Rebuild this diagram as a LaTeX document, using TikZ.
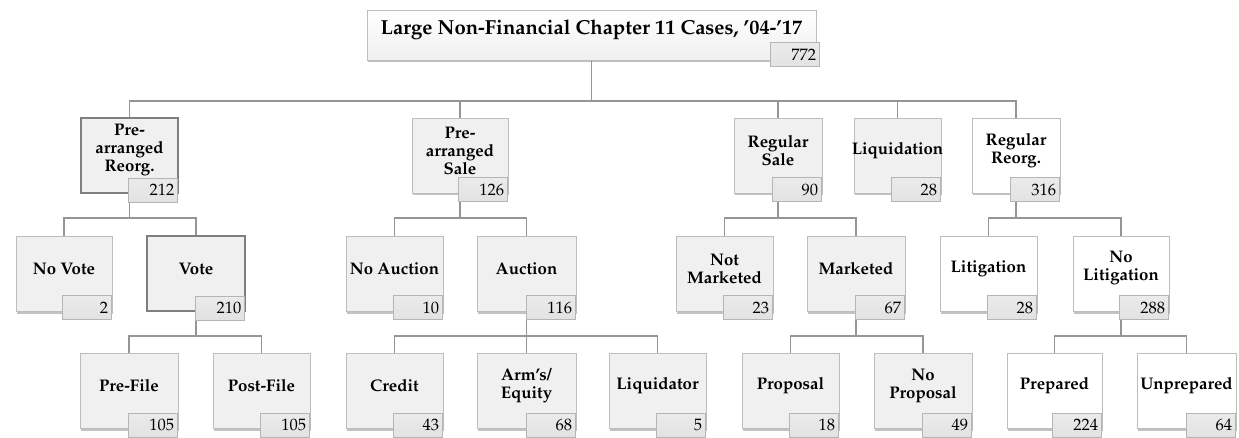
\documentclass[tikz,border=0pt]{standalone}
\usepackage[T1]{fontenc}
\IfFileExists{tgpagella.sty}{\usepackage{tgpagella}}{\usepackage{mathpazo}}
\usetikzlibrary{shadows,backgrounds}
\definecolor{linegray}{HTML}{959595}
\definecolor{boxfill}{HTML}{F0F0F0}
\definecolor{boxdraw}{HTML}{BDBDBD}
\definecolor{seldraw}{HTML}{7F7F7F}
\definecolor{cntfill}{HTML}{E2E2E2}
\definecolor{cntdraw}{HTML}{B5B5B5}
\tikzset{
  shd/.style={drop shadow={shadow xshift=1.2pt,shadow yshift=-2.5pt,fill=black!60,opacity=0.4}},
  gbox/.style={draw=boxdraw, line width=0.8pt, fill=boxfill, minimum height=75pt, inner sep=0pt, shd},
  wbox/.style={gbox, fill=white},
  sbox/.style={draw=seldraw, line width=1.5pt, fill=boxfill, minimum height=75pt, inner sep=0pt},
  lbl/.style={align=center, inner sep=0pt, font=\bfseries\fontsize{16.8}{18}\selectfont},
  cnt/.style={anchor=north east, draw=cntdraw, line width=0.8pt, top color=cntfill!70, bottom color=cntfill, minimum height=24pt, text width=43pt, align=right, inner xsep=3pt, inner ysep=0pt, font=\fontsize{16.5}{16.5}\selectfont},
  conn/.style={draw=linegray, line width=1.6pt},
}
\newcommand\mybox[7]{%
  \node[#5, minimum width=#4pt] (#1) at (#2,#3) {};
  \node[lbl] (#1t) at ([yshift=5pt]#1.center) {#6};
  \node[cnt] (#1c) at ([xshift=-1pt,yshift=16pt]#1.south east) {#7};
}
\begin{document}
\begin{tikzpicture}[x=1pt,y=-1pt]
\useasboundingbox (0,0) rectangle (1239,438);
% top
\node[draw=boxdraw, line width=0.8pt, top color=white, bottom color=black!6, minimum width=449pt, minimum height=50pt, inner sep=0pt, shd] (T) at (591.5,35) {};
\node[inner sep=0pt, font=\bfseries\fontsize{20.3}{22}\selectfont] (Tt) at ([yshift=5pt]T.center) {Large Non-Financial Chapter 11 Cases, '04-'17};
\node[cnt] (Tc) at ([xshift=3pt,yshift=18pt]T.south east) {772};
% level 1
\mybox{PR}{129.5}{155.5}{97}{sbox}{Pre-\\arranged\\Reorg.}{212}
\mybox{PS}{460}{155.5}{96}{gbox}{Pre-\\arranged\\Sale}{126}
\mybox{RS}{778}{155.5}{88}{gbox}{Regular\\Sale}{90}
\mybox{LQ}{897.5}{155.5}{87}{gbox}{Liquidation}{28}
\mybox{RR}{1016}{155.5}{88}{wbox}{Regular\\Reorg.}{316}
% level 2
\mybox{NV}{64}{273.5}{96}{gbox}{No Vote}{2}
\mybox{V}{196}{273.5}{98}{sbox}{Vote}{210}
\mybox{NA}{394.5}{273.5}{97}{gbox}{No Auction}{10}
\mybox{A}{526.5}{273.5}{99}{gbox}{Auction}{116}
\mybox{NM}{724.5}{273.5}{97}{gbox}{Not\\Marketed}{23}
\mybox{M}{856}{273.5}{98}{gbox}{Marketed}{67}
\mybox{L}{988.5}{273.5}{97}{wbox}{Litigation}{28}
\mybox{NL}{1121}{273.5}{96}{wbox}{No\\Litigation}{288}
% level 3
\mybox{PF}{129}{391}{98}{gbox}{Pre-File}{105}
\mybox{PoF}{261.5}{391}{97}{gbox}{Post-File}{105}
\mybox{C}{394.5}{391}{97}{gbox}{Credit}{43}
\mybox{AE}{526.5}{391}{99}{gbox}{Arm's/\\Equity}{68}
\mybox{LD}{657.5}{391}{97}{gbox}{Liquidator}{5}
\mybox{P}{790.5}{391}{97}{gbox}{Proposal}{18}
\mybox{NP}{923}{391}{98}{gbox}{No\\Proposal}{49}
\mybox{Pr}{1054.5}{391}{95}{wbox}{Prepared}{224}
\mybox{U}{1186.5}{391}{99}{wbox}{Unprepared}{64}
% connectors
\coordinate (b1) at (0,101);
\coordinate (b2) at (0,218);
\coordinate (b3) at (0,336);
\begin{pgfonlayer}{background}
\draw[conn] (T.south) -- (T.south |- b1);
\foreach \c in {PR,PS,RS,LQ,RR} \draw[conn] (T.south |- b1) -| (\c.north);
\draw[conn] (PR.south) -- (PR.south |- b2);
\foreach \c in {NV,V} \draw[conn] (PR.south |- b2) -| (\c.north);
\draw[conn] (PS.south) -- (PS.south |- b2);
\foreach \c in {NA,A} \draw[conn] (PS.south |- b2) -| (\c.north);
\draw[conn] (RS.south) -- (RS.south |- b2);
\foreach \c in {NM,M} \draw[conn] (RS.south |- b2) -| (\c.north);
\draw[conn] (RR.south) -- (RR.south |- b2);
\foreach \c in {L,NL} \draw[conn] (RR.south |- b2) -| (\c.north);
\draw[conn] (V.south) -- (V.south |- b3);
\foreach \c in {PF,PoF} \draw[conn] (V.south |- b3) -| (\c.north);
\draw[conn] (A.south) -- (A.south |- b3);
\foreach \c in {C,AE,LD} \draw[conn] (A.south |- b3) -| (\c.north);
\draw[conn] (M.south) -- (M.south |- b3);
\foreach \c in {P,NP} \draw[conn] (M.south |- b3) -| (\c.north);
\draw[conn] (NL.south) -- (NL.south |- b3);
\foreach \c in {Pr,U} \draw[conn] (NL.south |- b3) -| (\c.north);
\end{pgfonlayer}
\end{tikzpicture}
\end{document}
